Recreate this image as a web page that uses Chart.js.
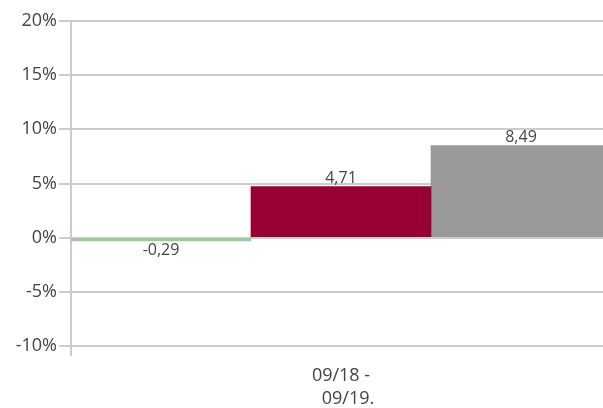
<!DOCTYPE html>
<html>
<head>
<meta charset="utf-8">
<script src="https://cdn.jsdelivr.net/npm/chart.js@4/dist/chart.umd.min.js"></script>
<style>
  html, body { margin: 0; padding: 0; background: #fff; overflow: hidden; }
  #clip { width: 603px; height: 408px; overflow: hidden; }
  #wrap { width: 611px; height: 408px; position: relative; }
</style>
</head>
<body>
<div id="clip"><div id="wrap"><canvas id="myChart"></canvas></div></div>
<script>
// 데이터
const categories = [['09/18 -', '   09/19.']];
const seriesNames = ['A', 'B', 'C'];
const seriesValues = [[-0.29], [4.71], [8.49]];
const seriesColors = ['#99cc99', '#990033', '#999999'];
const yTicks = [-10, -5, 0, 5, 10, 15, 20];

const fontFamily = '"Open Sans", sans-serif';

// 막대 위/아래 값 표시
const valueLabels = {
    id: 'valueLabels',
    afterDatasetsDraw(chart) {
        const ctx = chart.ctx;
        ctx.save();
        ctx.font = '16px ' + fontFamily;
        ctx.fillStyle = '#444';
        ctx.textAlign = 'center';
        chart.data.datasets.forEach((ds, i) => {
            const meta = chart.getDatasetMeta(i);
            meta.data.forEach((bar, j) => {
                const v = ds.data[j];
                const txt = v.toFixed(2).replace('.', ',');
                if (v >= 0) {
                    ctx.textBaseline = 'bottom';
                    ctx.fillText(txt, bar.x, bar.y);
                } else {
                    ctx.textBaseline = 'top';
                    ctx.fillText(txt, bar.x, bar.y + 2);
                }
            });
        });
        ctx.restore();
    }
};

const ctx = document.getElementById('myChart').getContext('2d');
const myChart = new Chart(ctx, {
    type: 'bar',
    data: {
        labels: categories,
        datasets: seriesNames.map((name, i) => ({
            label: name,
            data: seriesValues[i],
            backgroundColor: seriesColors[i],
            borderWidth: 0,
            barPercentage: 1,
            categoryPercentage: 1
        }))
    },
    options: {
        responsive: true,
        maintainAspectRatio: false,
        animation: false,
        layout: { padding: { top: 21, right: 0, left: 0, bottom: 0 } },
        plugins: {
            legend: { display: false },
            tooltip: { enabled: false }
        },
        scales: {
            x: {
                offset: true,
                grid: {
                    display: true,
                    offset: true,
                    color: (c) => c.index === 0 ? '#cccccc' : 'rgba(0,0,0,0)',
                    lineWidth: 2,
                    tickLength: 10
                },
                border: { display: false },
                ticks: {
                    color: '#444',
                    font: { family: fontFamily, size: 18, lineHeight: 1.3 },
                    padding: 8
                },
                afterFit: (scale) => { scale.height = 62; }
            },
            y: {
                min: yTicks[0],
                max: yTicks[yTicks.length - 1],
                afterBuildTicks: (scale) => { scale.ticks = yTicks.map(v => ({ value: v })); },
                grid: {
                    color: '#cccccc',
                    lineWidth: 2,
                    tickLength: 12
                },
                border: { display: false },
                ticks: {
                    color: '#444',
                    font: { family: fontFamily, size: 18 },
                    padding: 2,
                    callback: (v) => v + '%'
                },
                afterFit: (scale) => { scale.width = 71; }
            }
        }
    },
    plugins: [valueLabels]
});
</script>
</body>
</html>
